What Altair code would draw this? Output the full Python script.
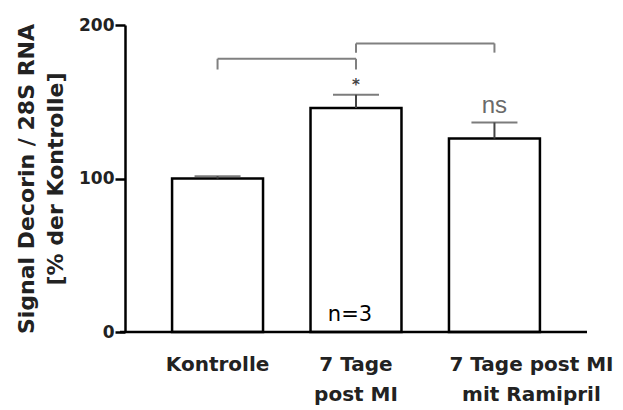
import altair as alt
import pandas as pd

categories = ["Kontrolle", "7 Tage|post MI", "7 Tage post MI|mit Ramipril"]
means = [100, 146, 126]
sems = [1.5, 8.5, 10.5]

bracket_from = [categories[0], categories[1]]
bracket_to = [categories[1], categories[2]]
bracket_level = [178, 188]
bracket_tip = [171, 182]

annot_cat = [categories[1], categories[2]]
annot_text = ["*", "ns"]
annot_y = [161, 147]

n_label = "n=3"
n_y = 11

W, H = 462, 307

bars_df = pd.DataFrame({"cat": categories, "mean": means, "sem": sems})
bars_df["top"] = bars_df["mean"] + bars_df["sem"]

br_df = pd.DataFrame({"a": bracket_from, "b": bracket_to, "lvl": bracket_level, "tip": bracket_tip})
tips_df = pd.DataFrame({
    "cat": bracket_from + bracket_to,
    "lvl": bracket_level + bracket_level,
    "tip": bracket_tip + bracket_tip,
})
ann_df = pd.DataFrame({"cat": annot_cat, "txt": annot_text, "y": annot_y})
n_df = pd.DataFrame({"cat": [categories[1]], "txt": [n_label], "y": [n_y]})

xscale = alt.Scale(domain=categories, paddingInner=0.343, paddingOuter=0.34)
yscale = alt.Scale(domain=[0, 200])

x_axis = alt.Axis(
    title=None, domain=False, ticks=False, tickSize=0,
    labelExpr="split(datum.label, '|')",
    labelFont="DejaVu Sans", labelFontWeight="bold", labelFontSize=20,
    labelColor="#222", labelPadding=22, labelLineHeight=30, labelAngle=0,
    labelOffset={"condition": {"test": "datum.value == '7 Tage post MI|mit Ramipril'", "value": 37}, "value": 0},
)
y_axis = alt.Axis(
    title=["Signal Decorin / 28S RNA", "[% der Kontrolle]"],
    values=[0, 100, 200], grid=False,
    domainColor="black", domainWidth=2.5, tickColor="black", tickWidth=2.5, tickSize=10,
    labelFont="DejaVu Sans", labelFontWeight="bold", labelFontSize=17, labelColor="#222",
    labelPadding=1,
    titleFont="DejaVu Sans", titleFontWeight="bold", titleFontSize=22, titleColor="#222",
    titleLineHeight=29, titlePadding=11,
)

x = alt.X("cat:N", scale=xscale, axis=x_axis, sort=categories)

bars = alt.Chart(bars_df).mark_bar(fill="white", stroke="black", strokeWidth=2.5).encode(
    x=x, y=alt.Y("mean:Q", scale=yscale, axis=y_axis)
)
err = alt.Chart(bars_df).mark_rule(color="#444", strokeWidth=2).encode(
    x=alt.X("cat:N", sort=categories), y="mean:Q", y2="top:Q"
)
caps = alt.Chart(bars_df).mark_tick(color="#444", thickness=2, size=46, orient="horizontal").encode(
    x=alt.X("cat:N", sort=categories), y="top:Q"
)
br_h = alt.Chart(br_df).mark_rule(color="#808080", strokeWidth=2).encode(
    x=alt.X("a:N", sort=categories), x2="b:N", y="lvl:Q"
)
br_v = alt.Chart(tips_df).mark_rule(color="#808080", strokeWidth=2).encode(
    x=alt.X("cat:N", sort=categories), y="tip:Q", y2="lvl:Q"
)
ann_star = alt.Chart(ann_df[ann_df["txt"] == "*"]).mark_text(
    font="DejaVu Sans", fontSize=15, fontWeight="bold", color="#444", baseline="middle"
).encode(x=alt.X("cat:N", sort=categories), y="y:Q", text="txt:N")
ann_ns = alt.Chart(ann_df[ann_df["txt"] == "ns"]).mark_text(
    font="Liberation Sans", fontSize=24, color="#6a6a6a", baseline="middle"
).encode(x=alt.X("cat:N", sort=categories), y="y:Q", text="txt:N")
n_txt = alt.Chart(n_df).mark_text(
    font="DejaVu Sans", fontSize=21, color="black", baseline="middle", dx=-6
).encode(x=alt.X("cat:N", sort=categories), y="y:Q", text="txt:N")
base = alt.Chart(pd.DataFrame({"v": [0]})).mark_rule(color="black", strokeWidth=2.5).encode(
    x=alt.value(-5), x2=alt.value(W), y=alt.value(H)
)

chart = alt.layer(bars, err, caps, br_h, br_v, ann_star, ann_ns, n_txt, base).properties(
    width=W, height=H,
    padding={"left": 117, "top": 17, "right": 28, "bottom": 78},
    autosize="none",
).configure_view(stroke=None)

chart.save("out.html", embed_options={"renderer": "svg", "actions": False})
